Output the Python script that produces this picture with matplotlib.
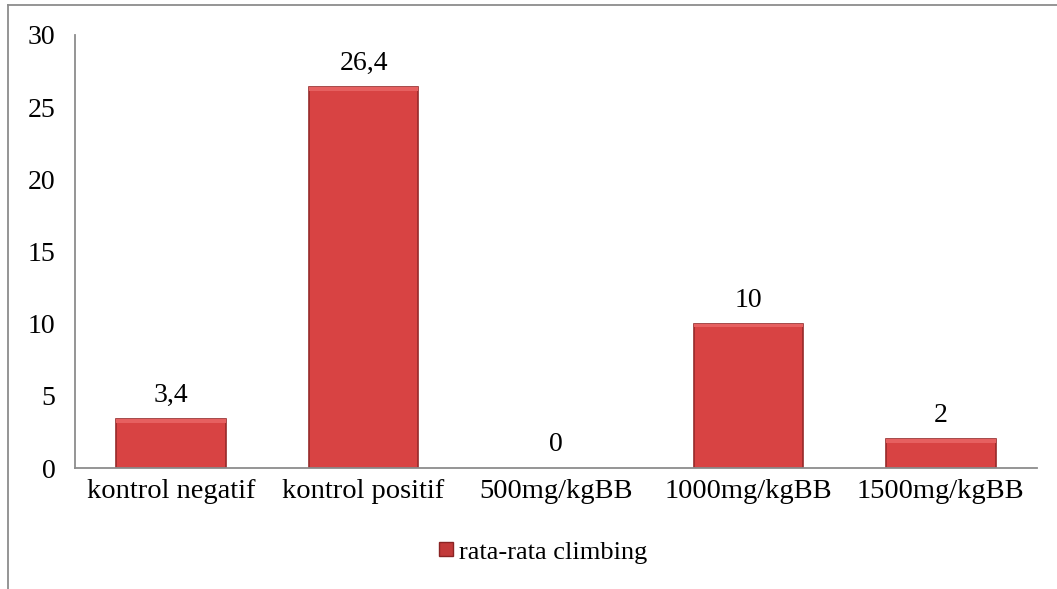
import matplotlib.pyplot as plt
from matplotlib.lines import Line2D

categories = ['kontrol negatif', 'kontrol positif', '500mg/kgBB', '1000mg/kgBB', '1500mg/kgBB']
values = [3.4, 26.4, 0, 10, 2]
value_labels = ['3,4', '26,4', '0', '10', '2']
yticks = [0, 5, 10, 15, 20, 25, 30]

plt.rcParams['font.family'] = ['Liberation Serif', 'DejaVu Serif']

fig = plt.figure(figsize=(10.57, 5.89), dpi=100)
ax = fig.add_axes([0.071, 0.2054, 0.910, 0.7352])

x = list(range(len(categories)))
edges = ['#962a2a' if v > 0 else 'none' for v in values]
ax.bar(x, values, width=0.57, color='#d84343', edgecolor=edges, linewidth=1.2, zorder=2)
# light bevel on top of each bar
ax.bar(x, [min(v, 0.25) for v in values], bottom=[v - min(v, 0.25) for v in values],
       width=0.57, color='#e66060', linewidth=0, zorder=3)

for xi, v, lab in zip(x, values, value_labels):
    ax.text(xi, v + 0.75, lab, ha='center', va='bottom', fontsize=20)

ax.set_xlim(-0.5, len(categories) - 0.5)
ax.set_ylim(0, 30)
ax.set_yticks(yticks)
ax.set_xticks(x)
ax.set_xticklabels(categories, fontsize=20.5)
ax.tick_params(axis='both', length=0)
ax.tick_params(axis='y', pad=14, labelsize=20)
ax.tick_params(axis='x', pad=8)
for s in ['top', 'right']:
    ax.spines[s].set_visible(False)
for s in ['left', 'bottom']:
    ax.spines[s].set_color('#8c8c8c')
    ax.spines[s].set_linewidth(1.3)

handle = Line2D([], [], marker='s', linestyle='none', markersize=10,
                markerfacecolor='#c23a3a', markeredgecolor='#8a2424')
fig.legend([handle], ['rata-rata climbing'], loc='center', bbox_to_anchor=(0.512, 0.063),
           frameon=False, fontsize=19, handletextpad=0.1, handlelength=0.8)

# outer chart border
fig.add_artist(Line2D([8 / 1057, 8 / 1057], [0, 1 - 5 / 589], color='#8c8c8c', lw=1.3))
fig.add_artist(Line2D([8 / 1057, 1], [1 - 5 / 589, 1 - 5 / 589], color='#8c8c8c', lw=1.3))

fig.savefig('out.png', dpi=100)
